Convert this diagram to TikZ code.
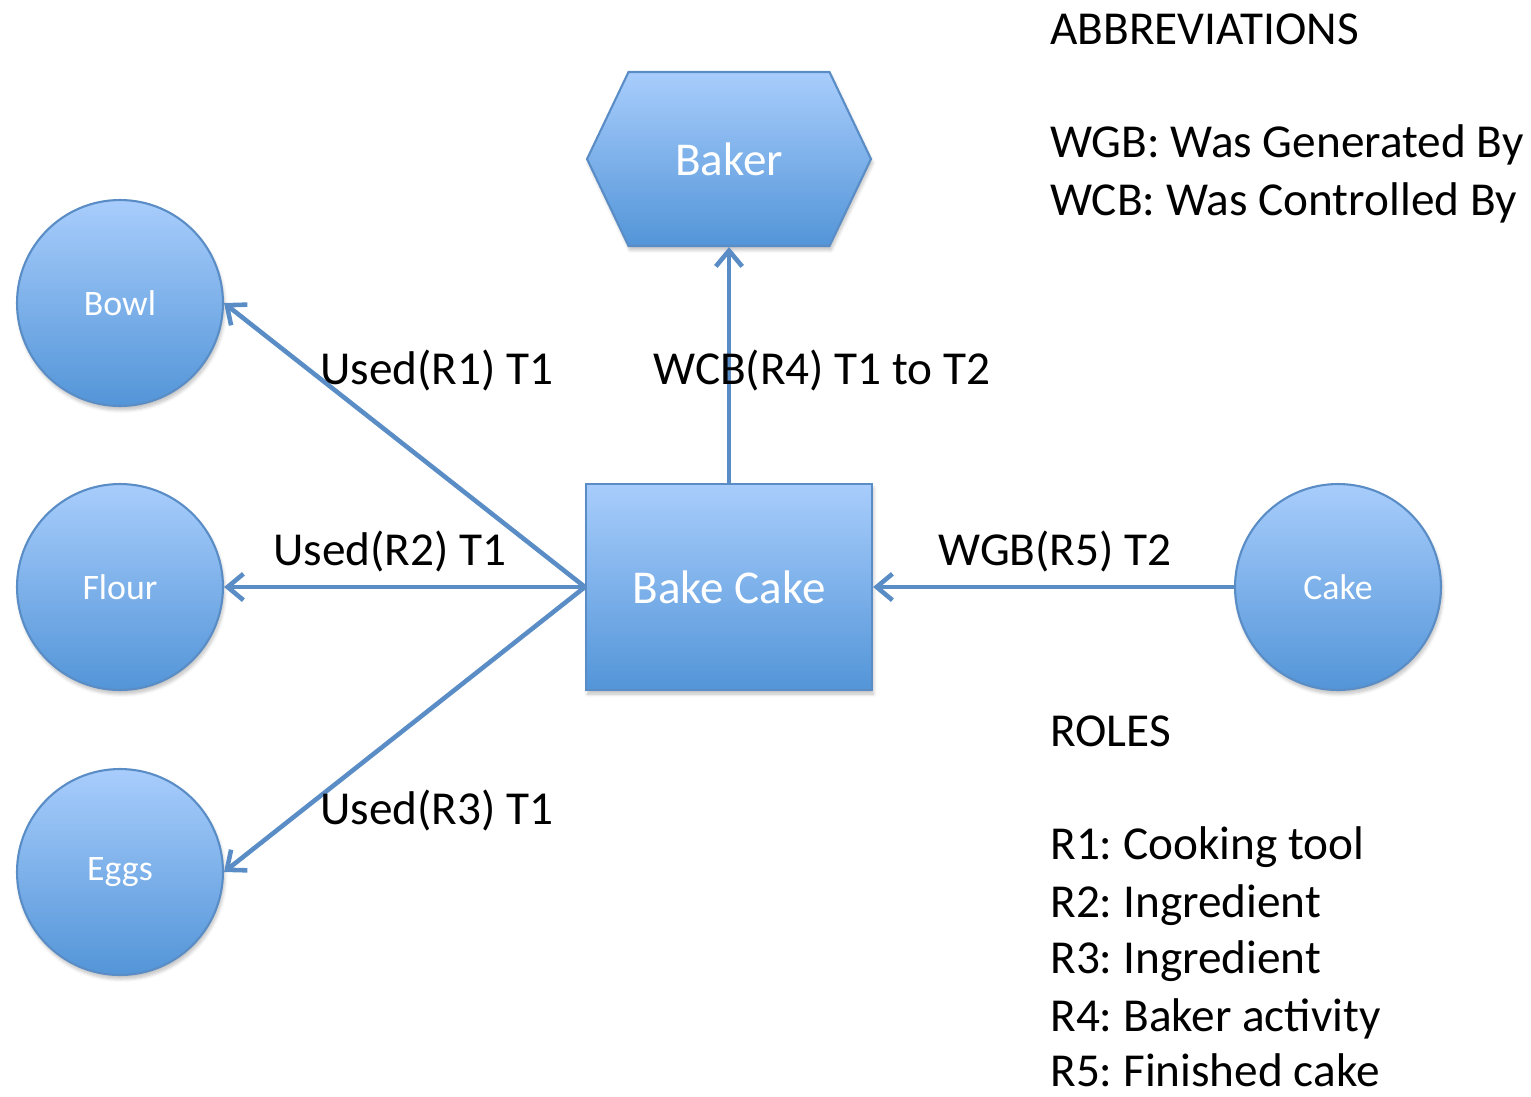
\documentclass[tikz,border=0pt]{standalone}
\usepackage{fontspec}
\setmainfont{Carlito}
\usetikzlibrary{shapes,shapes.symbols,arrows.meta,positioning,shadows.blur}
\definecolor{nodetop}{HTML}{A8CDFC}
\definecolor{nodebot}{HTML}{5395D8}
\definecolor{nodeline}{HTML}{5A8DC5}
\frenchspacing
\tikzset{>={Straight Barb[length=9pt,width=15pt]}}
\tikzset{
  boxed/.style={draw=nodeline, line width=1.2pt, top color=nodetop, bottom color=nodebot,
    text=white, inner sep=0pt,
    blur shadow={shadow blur steps=6, shadow xshift=0.03cm, shadow yshift=-0.08cm, shadow opacity=25}},
  entity/.style={boxed, circle, minimum size=4.12cm, font=\fontsize{20.4}{24}\selectfont},
  activity/.style={boxed, rectangle, minimum width=5.72cm, minimum height=4.12cm, font=\fontsize{26.8}{32}\selectfont},
  agent/.style={boxed, signal, signal to=west and east, signal pointer angle=129,
    minimum width=5.68cm, minimum height=3.48cm, font=\fontsize{26.8}{32}\selectfont},
  link/.style={draw=nodeline, line width=2.6pt, ->},
  lbl/.style={anchor=base, font=\fontsize{26.9}{32}\selectfont, inner sep=0pt},
  legend/.style={anchor=base west, font=\fontsize{26.9}{32}\selectfont, inner sep=0pt, text depth=0pt}
}

\begin{document}
\begin{tikzpicture}[x=0.02cm, y=-0.02cm]
    \useasboundingbox (0,0) rectangle (1531,1096);
    \node [agent] (baker) at (729,159) {Baker};
    \node [activity] (bake) at (729,587) {Bake Cake};
    \node [entity] (bowl) at (120,303) {Bowl};
    \node [entity] (flour) at (120,587) {Flour};
    \node [entity] (eggs) at (120,872) {Eggs};
    \node [entity] (cake) at (1338,587) {Cake};
    \draw [link] (bake.west) -- (bowl.east);
    \draw [link] (bake.west) -- (flour.east);
    \draw [link] (bake.west) -- (eggs.east);
    \draw [link] (bake.north) -- (baker.south);
    \draw [link] (cake.west) -- (bake.east);
    \node [lbl] (used1) at (437,384) {Used(R1) T1};
    \node [lbl] (used2) at (390,565) {Used(R2) T1};
    \node [lbl] (used3) at (437,824) {Used(R3) T1};
    \node [lbl] (wcb) at (822,384) {WCB(R4) T1 to T2};
    \node [lbl] (wgb) at (1055,565) {WGB(R5) T2};
    \foreach \y/\txt [count=\i] in {44/ABBREVIATIONS, 157/{WGB: Was Generated By},
        215/{WCB: Was Controlled By}, 746/ROLES, 859/{R1: Cooking tool},
        917/{R2: Ingredient}, 973/{R3: Ingredient}, 1031/{R4: Baker activity},
        1086/{R5: Finished cake}}
      \node [legend] (key\i) at (1050,\y) {\txt};
\end{tikzpicture}
\end{document}
